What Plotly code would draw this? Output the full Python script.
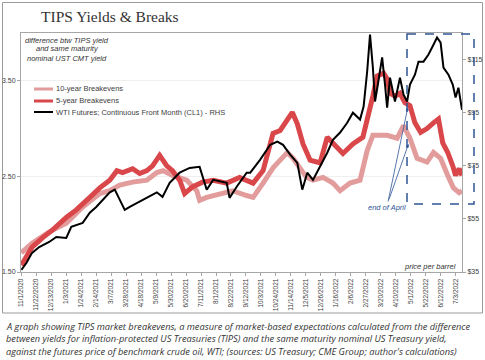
import plotly.graph_objects as go

# ---------------- data ----------------
be5_dates = ["2020-11-01","2020-11-16","2020-12-01","2020-12-15","2021-01-03","2021-01-17","2021-02-05",
             "2021-02-19","2021-03-05","2021-03-15","2021-03-23","2021-04-06","2021-04-16","2021-04-26","2021-05-04",
             "2021-05-14","2021-05-24","2021-06-01","2021-06-11","2021-06-18","2021-06-29","2021-07-13",
             "2021-07-28","2021-08-16","2021-09-03","2021-09-22","2021-10-06","2021-10-20","2021-10-30",
             "2021-11-09","2021-11-16","2021-11-23","2021-12-01","2021-12-11","2021-12-25","2022-01-04",
             "2022-01-18","2022-01-26","2022-02-09","2022-02-23","2022-03-09","2022-03-15","2022-03-24",
             "2022-03-29","2022-04-02","2022-04-09","2022-04-16","2022-04-23","2022-04-30","2022-05-07",
             "2022-05-15","2022-05-24","2022-06-02","2022-06-09","2022-06-15","2022-06-22","2022-06-29",
             "2022-07-03","2022-07-08","2022-07-12"]
be5_vals = [1.57,1.76,1.86,1.94,2.07,2.15,2.28,
            2.38,2.46,2.56,2.54,2.58,2.53,2.56,2.61,
            2.72,2.61,2.56,2.46,2.32,2.39,2.44,
            2.46,2.43,2.49,2.43,2.56,2.95,2.98,
            3.08,3.17,3.05,2.84,2.67,2.64,2.91,
            2.80,2.74,2.84,2.91,3.34,3.55,3.58,
            3.52,3.37,3.34,3.37,3.27,3.24,3.06,
            2.96,3.00,3.06,3.10,2.85,2.75,2.61,
            2.51,2.58,2.51]

be10_dates = ["2020-11-01","2020-11-16","2020-12-10","2021-01-03","2021-01-26","2021-02-19","2021-03-05",
              "2021-03-19","2021-04-06","2021-04-26","2021-05-10","2021-05-19","2021-06-01","2021-06-21",
              "2021-07-05","2021-07-09","2021-07-19","2021-08-06","2021-08-24","2021-09-13","2021-09-22",
              "2021-10-06","2021-10-20","2021-10-30","2021-11-09","2021-11-17","2021-11-27","2021-12-06",
              "2021-12-15","2021-12-29","2022-01-12","2022-01-22","2022-02-05","2022-02-19","2022-03-01",
              "2022-03-09","2022-03-29","2022-04-12","2022-04-21","2022-04-30","2022-05-10","2022-05-24",
              "2022-06-02","2022-06-12","2022-06-22","2022-06-30","2022-07-08","2022-07-12"]
be10_vals = [1.70,1.80,1.92,2.01,2.18,2.32,2.35,
             2.41,2.44,2.46,2.54,2.56,2.51,2.46,
             2.35,2.25,2.28,2.32,2.35,2.30,2.28,
             2.43,2.59,2.67,2.75,2.69,2.59,2.49,
             2.46,2.49,2.43,2.35,2.43,2.46,2.77,
             2.93,2.93,2.90,3.03,2.90,2.69,2.65,
             2.75,2.69,2.51,2.38,2.33,2.35]

wti_dates = ["2020-11-01","2020-11-08","2020-11-16","2020-11-26","2020-12-10","2020-12-20","2021-01-03",
             "2021-01-10","2021-01-26","2021-02-05","2021-02-14","2021-02-23","2021-03-05","2021-03-12",
             "2021-03-19","2021-03-26","2021-04-02","2021-04-12","2021-04-26","2021-05-10","2021-05-18",
             "2021-05-28","2021-06-11","2021-06-25","2021-07-09","2021-07-19","2021-07-28","2021-08-16",
             "2021-08-20","2021-08-30","2021-09-13","2021-09-18","2021-10-02","2021-10-16","2021-10-26",
             "2021-11-03","2021-11-13","2021-11-23","2021-11-30","2021-12-07","2021-12-15","2021-12-25",
             "2022-01-04","2022-01-12","2022-01-22","2022-02-01","2022-02-09","2022-02-19","2022-02-24",
             "2022-03-01","2022-03-05","2022-03-09","2022-03-12","2022-03-16","2022-03-22","2022-03-26",
             "2022-03-29","2022-04-02","2022-04-09","2022-04-16","2022-04-21","2022-04-26","2022-04-30",
             "2022-05-07","2022-05-12","2022-05-19","2022-05-26","2022-06-02","2022-06-07","2022-06-12",
             "2022-06-16","2022-06-23","2022-06-29","2022-07-03","2022-07-07","2022-07-12"]
wti_vals = [35.8,38.4,42.2,44.4,46.3,48.2,47.8,
            52.0,53.5,57.3,59.5,62.2,65.0,66.0,
            62.2,58.4,59.5,61.0,62.9,65.0,63.3,
            68.6,72.4,74.2,74.6,66.0,69.7,68.6,
            62.9,67.1,72.4,72.4,77.3,82.9,84.1,
            82.9,79.2,76.1,66.0,72.4,69.7,74.6,
            79.9,84.8,87.5,91.2,95.0,92.4,97.3,
            110.5,124.4,112.0,99.2,105.6,115.8,105.6,
            96.9,108.2,99.2,108.2,101.8,99.2,105.6,
            109.3,114.2,114.2,116.9,120.6,123.3,121.4,
            112.0,109.3,105.6,100.7,104.4,96.1]

x_tick_dates = ["2020-11-01","2020-11-22","2020-12-13","2021-01-03","2021-01-24","2021-02-14","2021-03-07",
                "2021-03-28","2021-04-18","2021-05-09","2021-05-30","2021-06-20","2021-07-11","2021-08-01",
                "2021-08-22","2021-09-12","2021-10-03","2021-10-24","2021-11-14","2021-12-05","2021-12-26",
                "2022-01-16","2022-02-06","2022-02-27","2022-03-20","2022-04-10","2022-05-01","2022-05-22",
                "2022-06-12","2022-07-03"]
x_tick_labels = ["11/1/2020","11/22/2020","12/13/2020","1/3/2021","1/24/2021","2/14/2021","3/7/2021",
                 "3/28/2021","4/18/2021","5/9/2021","5/30/2021","6/20/2021","7/11/2021","8/1/2021",
                 "8/22/2021","9/12/2021","10/3/2021","10/24/2021","11/14/2021","12/5/2021","12/26/2021",
                 "1/16/2022","2/6/2022","2/27/2022","3/20/2022","4/10/2022","5/1/2022","5/22/2022",
                 "6/12/2022","7/3/2022"]
left_ticks = [1.5, 2.5, 3.5]
left_tick_labels = ["1.50", "2.50", "3.50"]
right_ticks = [35, 55, 75, 95, 115]
right_tick_labels = ["$35", "$55", "$75", "$95", "$115"]

legend_names = ["10-year Breakevens", "5-year Breakevens",
                "WTI Futures; Continuous Front Month (CL1) - RHS"]
title_text = "TIPS Yields & Breaks"
note_lines = ["difference btw TIPS yield", "and same maturity", "nominal UST CMT yield"]
caption_lines = [
    "A graph showing TIPS market breakevens, a measure of market-based expectations calculated from the difference",
    "between yields for inflation-protected US Treasuries (TIPS) and the same maturity nominal US Treasury yield,",
    "against the futures price of benchmark crude oil, WTI; (sources: US Treasury; CME Group; author's calculations)",
]

# ---------------- styling / layout ----------------
W, H = 485, 360
L, R, T, B = 21, 462, 33, 272   # plot area in pixels


def px(xp):
    return (xp - L) / (R - L)


def py(yp):
    return (B - yp) / (B - T)


C10 = "#E39C9C"
C5 = "#D9474A"
CBLK = "#000000"
BLUE = "#2F5597"
TXT = "#404040"
SANS = "Liberation Sans, Arial, sans-serif"

fig = go.Figure()
fig.add_trace(go.Scatter(x=be10_dates, y=be10_vals, name=legend_names[0], mode="lines",
                         line=dict(color=C10, width=5), showlegend=False))
fig.add_trace(go.Scatter(x=be5_dates, y=be5_vals, name=legend_names[1], mode="lines",
                         line=dict(color=C5, width=5), showlegend=False))
fig.add_trace(go.Scatter(x=wti_dates, y=wti_vals, name=legend_names[2], mode="lines", yaxis="y2",
                         line=dict(color=CBLK, width=2), showlegend=False))

shapes = []
annotations = []

# outer frame
shapes.append(dict(type="rect", xref="paper", yref="paper", x0=px(2.5), x1=px(482.5), y0=py(2.5), y1=py(313),
                   line=dict(color="#9a9a9a", width=1), layer="below"))

# manual legend
leg_y = [89, 101, 112]
leg_col = [C10, C5, CBLK]
leg_w = [3, 3, 2]
for yy, c, w, name in zip(leg_y, leg_col, leg_w, legend_names):
    shapes.append(dict(type="line", xref="paper", yref="paper", x0=px(34), x1=px(53), y0=py(yy), y1=py(yy),
                       line=dict(color=c, width=w)))
    annotations.append(dict(xref="paper", yref="paper", x=px(54), y=py(yy), text=name, showarrow=False,
                            xanchor="left", yanchor="middle", font=dict(family=SANS, size=7.5, color=TXT)))

# dashed box around recent period
shapes.append(dict(type="rect", xref="paper", yref="paper", x0=px(407), x1=px(474), y0=py(34), y1=py(204),
                   line=dict(color=BLUE, width=1.5, dash="dash")))

# title
annotations.append(dict(xref="paper", yref="paper", x=px(39), y=py(16), text=title_text, showarrow=False,
                        xanchor="left", yanchor="middle",
                        font=dict(family="Liberation Serif, Times New Roman, serif", size=15.5, color="#333333")))

# note in top-left
for i, line in enumerate(note_lines):
    annotations.append(dict(xref="paper", yref="paper", x=px(67), y=py(40 + 9 * i), text="<i>%s</i>" % line,
                            showarrow=False, xanchor="center", yanchor="middle",
                            font=dict(family=SANS, size=7.5, color="#333333")))

# price per barrel
annotations.append(dict(xref="paper", yref="paper", x=px(458), y=py(266), text="<i>price per barrel</i>",
                        showarrow=False, xanchor="right", yanchor="middle",
                        font=dict(family=SANS, size=7.5, color="#333333")))

# end of April arrows
annotations.append(dict(xref="x", yref="y", x="2022-04-27", y=3.22, text="<i>end of April</i>",
                        showarrow=True, arrowhead=2, arrowsize=0.8, arrowwidth=0.8, arrowcolor=BLUE,
                        ax=-21, ay=100, font=dict(family=SANS, size=7.5, color=BLUE)))
annotations.append(dict(xref="x", yref="y", x="2022-04-28", y=2.84, text="",
                        showarrow=True, arrowhead=2, arrowsize=0.8, arrowwidth=0.8, arrowcolor=BLUE,
                        ax=-20, ay=57))

# caption below
for i, line in enumerate(caption_lines):
    annotations.append(dict(xref="paper", yref="paper", x=px(4), y=py(326 + 12.5 * i), text="<i>%s</i>" % line,
                            showarrow=False, xanchor="left", yanchor="middle",
                            font=dict(family="Open Sans, sans-serif", size=9.25, color="#333333")))

fig.update_layout(
    width=W, height=H,
    margin=dict(l=L, r=W - R, t=T, b=H - B, pad=0, autoexpand=False),
    paper_bgcolor="white", plot_bgcolor="white",
    showlegend=False,
    shapes=shapes, annotations=annotations,
    xaxis=dict(type="date", range=["2020-10-31 12:00", "2022-07-12"], automargin=False,
               tickvals=x_tick_dates, ticktext=x_tick_labels, tickangle=-90,
               tickfont=dict(family=SANS, size=6.5, color=TXT),
               showgrid=False, showline=True, linecolor="#a6a6a6", linewidth=1, mirror=True,
               ticks="outside", ticklen=3, tickcolor="#a6a6a6", zeroline=False),
    yaxis=dict(range=[1.5, 4.0], tickvals=left_ticks, ticktext=left_tick_labels, automargin=False,
               tickfont=dict(family=SANS, size=7, color=TXT),
               showgrid=True, gridcolor="#efefef", gridwidth=1,
               showline=True, linecolor="#a6a6a6", linewidth=1,
               ticks="outside", ticklen=3, tickcolor="#a6a6a6", zeroline=False),
    yaxis2=dict(range=[35, 125], tickvals=right_ticks, ticktext=right_tick_labels, automargin=False,
                overlaying="y", side="right",
                tickfont=dict(family=SANS, size=7, color=TXT),
                showgrid=False, showline=True, linecolor="#a6a6a6", linewidth=1,
                ticks="outside", ticklen=3, tickcolor="#a6a6a6", zeroline=False),
)

fig.write_html("out.html", config={"displayModeBar": False},
               post_script="document.body.style.margin='0';document.body.style.padding='0';")
